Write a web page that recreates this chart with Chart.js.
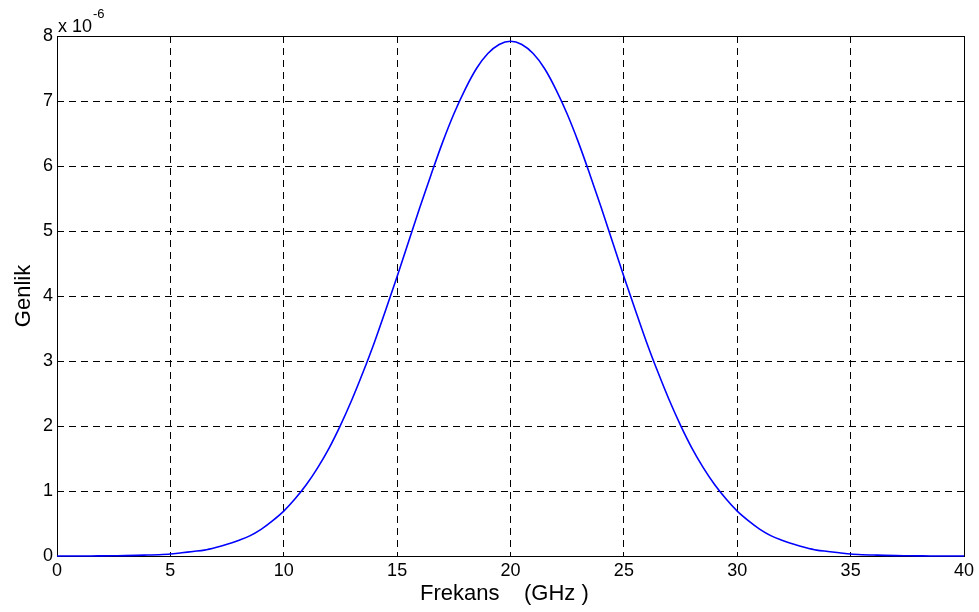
<!DOCTYPE html>
<html>
<head>
<meta charset="utf-8">
<script src="https://cdn.jsdelivr.net/npm/chart.js@4/dist/chart.umd.min.js"></script>
<style>
html,body{margin:0;padding:0;background:#fff;}
#wrap{width:979px;height:612px;position:relative;}
</style>
</head>
<body>
<div id="wrap"><canvas id="c" width="979" height="612"></canvas></div>
<script>
// Frequency (GHz)
const freqs = [0,0.5,1,1.5,2,2.5,3,3.5,4,4.5,5,5.5,6,6.5,7,7.5,8,8.5,9,9.5,
  10,10.5,11,11.5,12,12.5,13,13.5,14,14.5,15,15.5,16,16.5,17,17.5,18,18.5,19,19.5,
  20,20.5,21,21.5,22,22.5,23,23.5,24,24.5,25,25.5,26,26.5,27,27.5,28,28.5,29,29.5,
  30,30.5,31,31.5,32,32.5,33,33.5,34,34.5,35,35.5,36,36.5,37,37.5,38,38.5,39,39.5,40];
// Amplitude (x 1e-6)
const amplitude = [
  0,0,0,0,0.002,0.004,0.006,0.01,0.015,0.02,
  0.03,0.05,0.07,0.09,0.13,0.18,0.24,0.31,0.41,0.54,
  0.69,0.88,1.10,1.36,1.66,2.01,2.40,2.83,3.29,3.79,
  4.30,4.83,5.36,5.87,6.36,6.80,7.18,7.50,7.73,7.87,
  7.92,
  7.87,7.73,7.50,7.18,6.80,6.36,5.87,5.36,4.83,4.30,
  3.79,3.29,2.83,2.40,2.01,1.66,1.36,1.10,0.88,0.69,
  0.54,0.41,0.31,0.24,0.18,0.13,0.09,0.07,0.05,0.03,
  0.02,0.015,0.01,0.006,0.004,0.002,0,0,0,0];
const xTicks = [0,5,10,15,20,25,30,35,40];
const yTicks = [0,1,2,3,4,5,6,7,8];
const xLabel = 'Frekans    (GHz )  ';
const yLabel = 'Genlik';

const points = freqs.map((f, i) => ({x: f, y: amplitude[i]}));

const FONT = '"Liberation Sans", Arial, sans-serif';

const boxPlugin = {
  id: 'box',
  beforeDatasetsDraw(chart) {
    const {ctx, chartArea: a} = chart;
    ctx.save();
    ctx.strokeStyle = '#000';
    ctx.lineWidth = 1;
    ctx.setLineDash([]);
    ctx.strokeRect(Math.round(a.left) + 0.5, Math.round(a.top) + 0.5,
      Math.round(a.right - a.left), Math.round(a.bottom - a.top));
    ctx.restore();
  },
  afterDraw(chart) {
    const {ctx, chartArea: a} = chart;
    ctx.save();
    ctx.fillStyle = '#000';
    ctx.textBaseline = 'alphabetic';
    ctx.font = '18px ' + FONT;
    ctx.fillText('x 10', a.left + 1, a.top - 4);
    const w = ctx.measureText('x 10').width;
    ctx.font = '13px ' + FONT;
    ctx.fillText('-6', a.left + 1 + w + 1, a.top - 18);
    ctx.restore();
  }
};

new Chart(document.getElementById('c'), {
  type: 'line',
  data: {
    datasets: [{
      data: points,
      borderColor: '#0000ff',
      borderWidth: 1.6,
      pointRadius: 0,
      cubicInterpolationMode: 'monotone',
      fill: false,
      clip: false
    }]
  },
  options: {
    responsive: false,
    animation: false,
    events: [],
    plugins: {legend: {display: false}, tooltip: {enabled: false}},
    layout: {padding: {left: 0, right: 15, top: 36, bottom: 0}},
    scales: {
      x: {
        type: 'linear',
        min: 0, max: 40,
        afterBuildTicks(s) { s.ticks = xTicks.map(v => ({value: v})); },
        afterFit(s) { s.height = 56; },
        grid: {
          color: (c) => (c.tick && (c.tick.value === 0 || c.tick.value === 40)) ? 'rgba(0,0,0,0)' : '#000',
          lineWidth: 1,
          drawTicks: false,
          drawOnChartArea: true
        },
        border: {display: false, dash: [7, 5]},
        ticks: {
          color: '#000',
          font: {family: FONT, size: 18},
          padding: 4,
          maxRotation: 0,
          autoSkip: false
        },
        title: {
          display: true,
          text: xLabel,
          color: '#000',
          font: {family: FONT, size: 22},
          padding: {top: 0, bottom: 5}
        }
      },
      y: {
        type: 'linear',
        min: 0, max: 8,
        afterBuildTicks(s) { s.ticks = yTicks.map(v => ({value: v})); },
        afterFit(s) { s.width = 57; },
        grid: {
          color: (c) => (c.tick && (c.tick.value === 0 || c.tick.value === 8)) ? 'rgba(0,0,0,0)' : '#000',
          lineWidth: 1,
          drawTicks: false
        },
        border: {display: false, dash: [7, 5]},
        ticks: {
          color: '#000',
          font: {family: FONT, size: 18},
          padding: 4
        },
        title: {
          display: true,
          text: yLabel,
          color: '#000',
          font: {family: FONT, size: 22},
          padding: {top: 11, bottom: 0}
        }
      }
    }
  },
  plugins: [boxPlugin]
});
</script>
</body>
</html>
